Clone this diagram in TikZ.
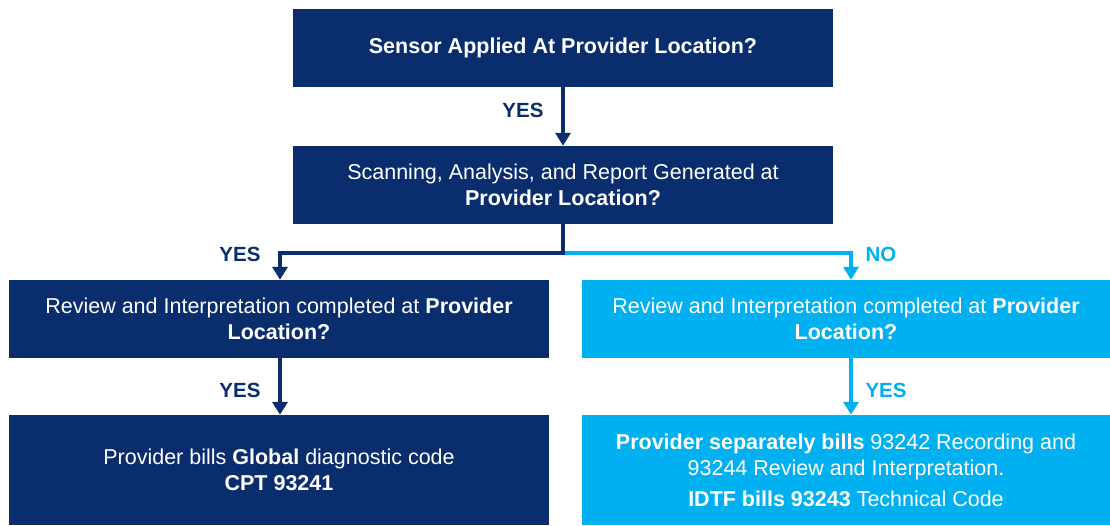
\documentclass[tikz,border=0pt]{standalone}
\usepackage{fontspec}
\setmainfont{Liberation Sans}
\usetikzlibrary{arrows.meta}
\definecolor{navy}{RGB}{10,45,110}
\definecolor{cyanb}{RGB}{0,176,240}
\begin{document}
\begin{tikzpicture}[x=1pt,y=-1pt,
  box/.style={rectangle, fill=navy, text=white, align=center, inner sep=0pt,
    font=\fontsize{21.5}{26.5}\selectfont},
  lbox/.style={box, fill=cyanb},
  lbl/.style={text=navy, font=\fontsize{20.5}{24}\selectfont\bfseries, inner sep=0pt},
  llbl/.style={lbl, text=cyanb},
  conn/.style={draw=navy, line width=4pt, -{Triangle[width=15pt,length=13pt]}},
  lconn/.style={conn, draw=cyanb}]
\useasboundingbox (0,0) rectangle (1110,525);

\node[box, minimum width=540pt, minimum height=78pt] (q1) at (563,48)
  {\textbf{Sensor Applied At Provider Location?}};
\node[box, minimum width=540pt, minimum height=78pt] (q2) at (563,185)
  {Scanning, Analysis, and Report Generated at\\ \textbf{Provider Location?}};
\node[box, minimum width=540pt, minimum height=78pt] (q3l) at (279,319)
  {Review and Interpretation completed at \textbf{Provider}\\ \textbf{Location?}};
\node[lbox, minimum width=528pt, minimum height=78pt] (q3r) at (846,319)
  {Review and Interpretation completed at \textbf{Provider}\\ \textbf{Location?}};
\node[box, minimum width=540pt, minimum height=110pt] (r1) at (279,470)
  {Provider bills \textbf{Global} diagnostic code\\ \textbf{CPT 93241}};
\node[lbox, minimum width=528pt, minimum height=110pt] (r2) at (846,470)
  {\textbf{Provider separately bills} 93242 Recording and\\ 93244 Review and Interpretation.\\[4pt] \textbf{IDTF bills 93243} Technical Code};

\coordinate (split) at (563,253);
\draw[conn] (q1.south) -- (q2.north);
\draw[draw=navy, line width=4pt] (q2.south) -- (split);
\draw[lconn] (split) -| ([xshift=5pt]q3r.north);
\draw[conn] ([xshift=2pt]split) -| ([xshift=1pt]q3l.north);
\draw[conn] ([xshift=1pt]q3l.south) -- ([xshift=1pt]r1.north);
\draw[lconn] ([xshift=5pt]q3r.south) -- ([xshift=5pt]r2.north);

\node[lbl] (y1) at (523,110) {YES};
\node[lbl] (y2) at (240,254) {YES};
\node[llbl] (n1) at (881,254) {NO};
\node[lbl] (y3) at (240,390) {YES};
\node[llbl] (y4) at (886,390) {YES};
\end{tikzpicture}
\end{document}
